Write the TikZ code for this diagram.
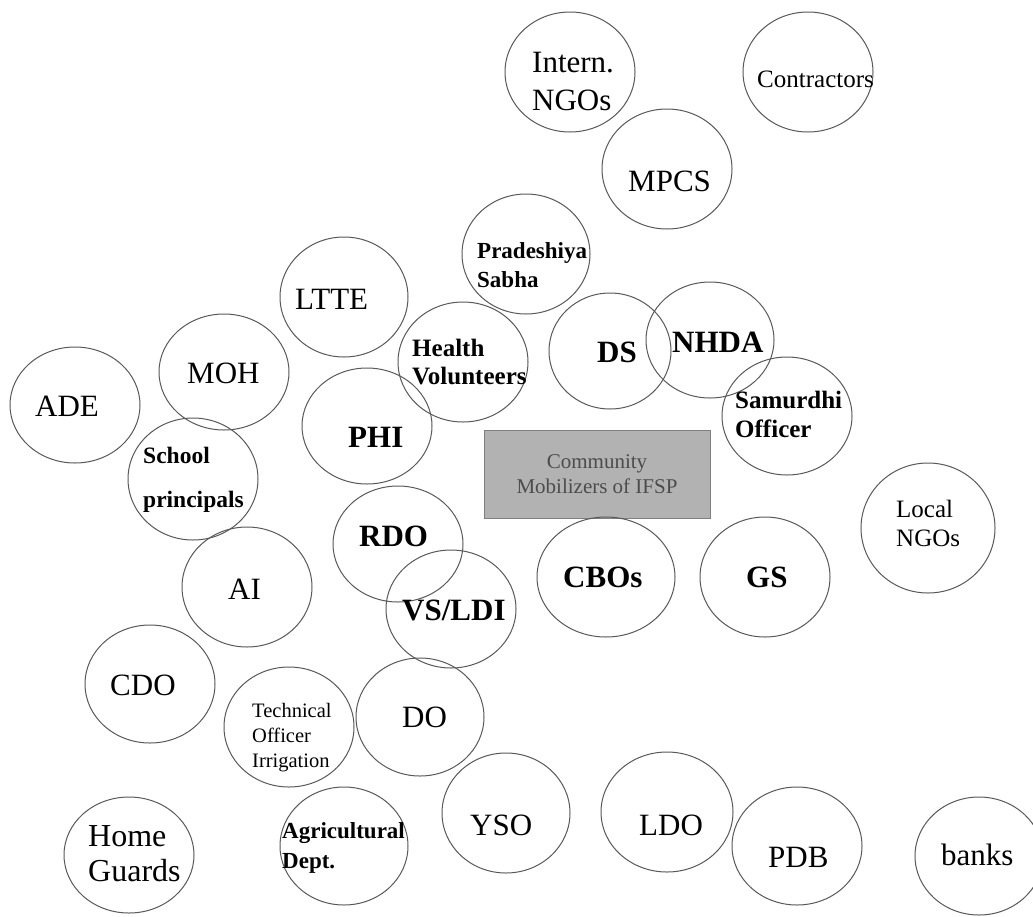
\documentclass[tikz,border=0pt]{standalone}
\usepackage{fontspec}
\setmainfont{Liberation Serif}
\usetikzlibrary{shapes.geometric}
\definecolor{rim}{gray}{0.35}
\definecolor{boxfill}{gray}{0.70}
\definecolor{boxrim}{gray}{0.50}
\definecolor{boxtext}{gray}{0.30}
\tikzset{
  org/.style 2 args={ellipse, draw=rim, line width=1pt, inner sep=0pt,
    minimum width=2*#1, minimum height=2*#2},
  lbl/.style={anchor=base west, inner sep=0pt, align=left},
  big/.style={lbl, font=\fontsize{31}{38}\selectfont},
  bigb/.style={lbl, font=\fontsize{31}{38}\bfseries\selectfont},
  midb/.style={lbl, font=\fontsize{24}{29}\bfseries\selectfont},
  mid/.style={lbl, font=\fontsize{25}{29}\selectfont},
  tiny/.style={lbl, font=\fontsize{20.5}{25}\selectfont},
}
\begin{document}
\begin{tikzpicture}[x=1pt,y=-1pt]
  % 画布:与原图同尺寸
  \useasboundingbox[fill=white] (0,0) rectangle (1033,916);
  % 中心方框
  \node[draw=boxrim, fill=boxfill, line width=1pt, minimum width=226, minimum height=88,
        inner sep=0pt, align=center, text=boxtext,
        font=\fontsize{21}{25}\selectfont] (cm) at (597,474)
        {Community\\Mobilizers of IFSP};
  % 上部 (多行文字:坐标为末行基线)
  \node[org={65}{60}] (intern) at (570,72) {};
  \node[big] (intern-t) at (532,110) {Intern.\\NGOs};
  \node[org={65}{60}] (contr) at (808,72) {};
  \node[mid] (contr-t) at (757,87) {Contractors};
  \node[org={65}{60}] (mpcs) at (667,169) {};
  \node[big] (mpcs-t) at (628,191) {MPCS};
  \node[org={64}{60}] (prad) at (526,254) {};
  \node[midb, font=\fontsize{23}{29}\bfseries\selectfont] (prad-t) at (477,287) {Pradeshiya\\Sabha};
  \node[org={64}{60}] (ltte) at (344,297) {};
  \node[big] (ltte-t) at (295,309) {LTTE};
  \node[org={65}{58}] (moh) at (224,372) {};
  \node[big] (moh-t) at (187,383) {MOH};
  \node[org={65}{58}] (ade) at (75,405) {};
  \node[big] (ade-t) at (35,416) {ADE};
  \node[org={65}{60}] (hv) at (463,362) {};
  \node[midb, font=\fontsize{25}{28}\bfseries\selectfont] (hv-t) at (412,384) {Health\\Volunteers};
  \node[org={61}{58}] (ds) at (610,351) {};
  \node[bigb] (ds-t) at (597,362) {DS};
  \node[org={64}{58}] (nhda) at (710,340) {};
  \node[bigb] (nhda-t) at (672,352) {NHDA};
  \node[org={65}{59}] (sam) at (787,416) {};
  \node[midb, font=\fontsize{25}{29}\bfseries\selectfont] (sam-t) at (735,437) {Samurdhi\\Officer};
  % 中部
  \node[org={65}{58}] (phi) at (367,426) {};
  \node[bigb] (phi-t) at (348,447) {PHI};
  \node[org={65}{61}] (school) at (193,479) {};
  \node[midb, font=\fontsize{23.5}{44}\bfseries\selectfont] (school-t) at (143,507) {School\\principals};
  \node[org={67}{65}] (local) at (928,528) {};
  \node[mid] (local-t) at (896,546) {Local\\NGOs};
  \node[org={65}{58}] (rdo) at (398,544) {};
  \node[bigb] (rdo-t) at (359,546) {RDO};
  \node[org={65}{60}] (ai) at (247,587) {};
  \node[big] (ai-t) at (228,599) {AI};
  \node[org={69}{60}] (cbos) at (606,577) {};
  \node[bigb] (cbos-t) at (563,587) {CBOs};
  \node[org={65}{60}] (gs) at (765,577) {};
  \node[bigb] (gs-t) at (746,587) {GS};
  \node[org={65}{59}] (vsldi) at (451,609) {};
  \node[bigb] (vsldi-t) at (402,620) {VS/LDI};
  % 下部
  \node[org={65}{59}] (cdo) at (150,684) {};
  \node[big] (cdo-t) at (110,695) {CDO};
  \node[org={65}{60}] (tech) at (289,727) {};
  \node[tiny] (tech-t) at (252,767) {Technical\\Officer\\Irrigation};
  \node[org={64}{59}] (do) at (420,717) {};
  \node[big] (do-t) at (402,727) {DO};
  \node[org={65}{58}] (home) at (129,855) {};
  \node[big, font=\fontsize{32}{35}\selectfont] (home-t) at (88,881) {Home\\Guards};
  \node[org={64}{59}] (agri) at (344,846) {};
  \node[midb, font=\fontsize{23}{30}\bfseries\selectfont] (agri-t) at (282,868) {Agricultural\\Dept.};
  \node[org={64}{60}] (yso) at (506,813) {};
  \node[big] (yso-t) at (470,835) {YSO};
  \node[org={66}{60}] (ldo) at (667,812) {};
  \node[big] (ldo-t) at (639,835) {LDO};
  \node[org={65}{59}] (pdb) at (797,846) {};
  \node[big] (pdb-t) at (768,867) {PDB};
  \node[org={64}{59}] (banks) at (979,856) {};
  \node[big] (banks-t) at (941,865) {banks};
\end{tikzpicture}
\end{document}
